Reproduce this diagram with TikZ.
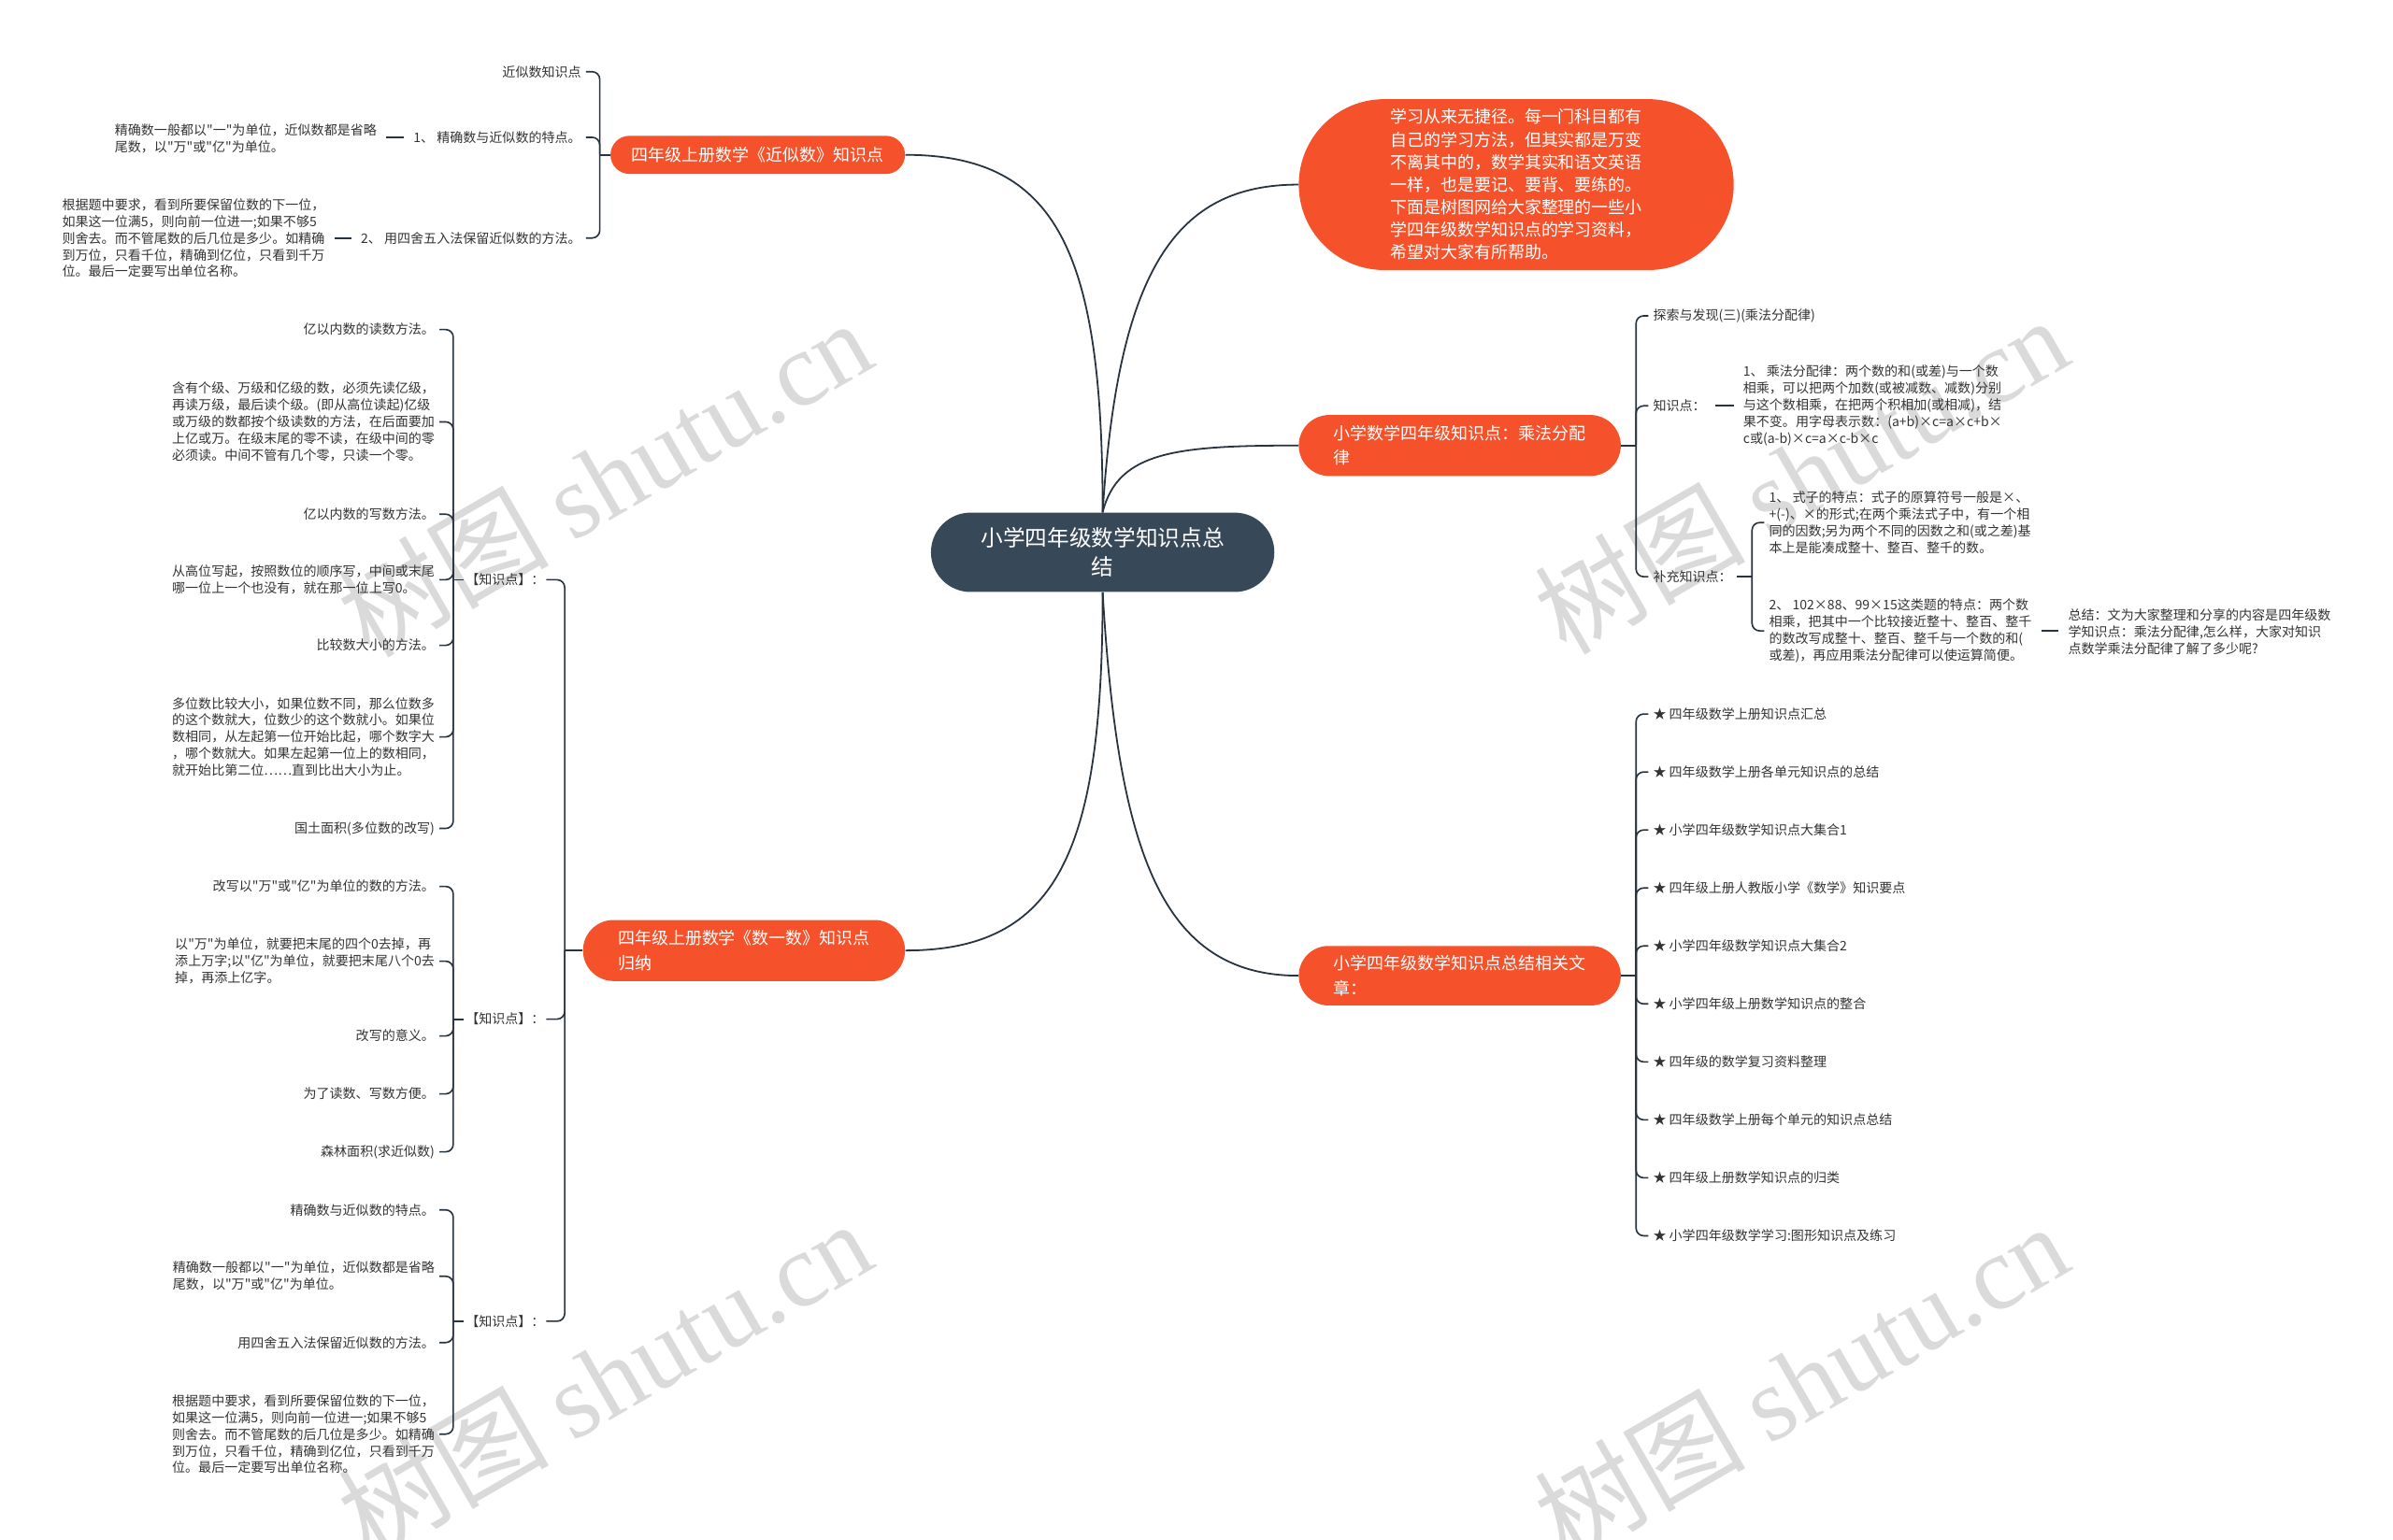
\documentclass[tikz,border=0pt]{standalone}
\usepackage{fontspec}
\setmainfont{Noto Sans CJK SC}[Ligatures=TeXOff]
\newfontfamily\wmlatin{Liberation Serif}
\definecolor{orng}{HTML}{F5522B}
\definecolor{slate}{HTML}{374858}
\definecolor{linec}{HTML}{27333F}
\definecolor{txt}{HTML}{333333}
\definecolor{wmc}{HTML}{DADADA}
\pgfdeclarelayer{bg}
\pgfsetlayers{bg,main}
\begin{document}
\begin{tikzpicture}[x=1pt,y=-1pt,
  leaf/.style={font=\fontsize{8.6}{11}\selectfont, text=txt, inner xsep=3pt, inner ysep=1pt},
  ltxt/.style={leaf, anchor=east, align=right},
  lpara/.style={leaf, anchor=east, align=left},
  rtxt/.style={leaf, anchor=west, align=left},
  mainbox/.style={fill=orng, text=white, font=\fontsize{11}{16}\selectfont, inner sep=0pt, align=left},
  br/.style={draw=linec, line width=1pt, rounded corners=5pt},
  lk/.style={draw=linec, line width=1.2pt, shorten <=3pt, shorten >=3pt},
  cv/.style={draw=linec, line width=1.1pt},
  wmark/.style={text=wmc, font=\fontsize{69}{69}\selectfont, rotate=30, inner sep=0pt}
]
\useasboundingbox (0,0) rectangle (1568,1009);

% ---------- main nodes ----------
\node[fill=slate, text=white, minimum width=225pt, minimum height=52pt, rounded corners=26pt,
      font=\fontsize{14.5}{19}\selectfont, align=center, inner sep=0pt] (n1) at (722.5,362)
      {小学四年级数学知识点总\\结};
\node[mainbox, minimum width=285pt, minimum height=112pt, rounded corners=56pt,
      font=\fontsize{11}{14.8}\selectfont] (n2) at (993.5,121)
      {学习从来无捷径。每一门科目都有\\自己的学习方法，但其实都是万变\\不离其中的，数学其实和语文英语\\一样，也是要记、要背、要练的。\\下面是树图网给大家整理的一些小\\学四年级数学知识点的学习资料，\\希望对大家有所帮助。};
\node[mainbox, minimum width=193pt, minimum height=25pt, rounded corners=12.5pt, align=center] (n3a) at (496.5,101.5)
      {四年级上册数学《近似数》知识点};
\node[mainbox, minimum width=211pt, minimum height=40pt, rounded corners=20pt] (n3b) at (487.5,623)
      {四年级上册数学《数一数》知识点\\归纳};
\node[mainbox, minimum width=211pt, minimum height=40pt, rounded corners=20pt] (n4) at (956.5,292)
      {小学数学四年级知识点：乘法分配\\律};
\node[mainbox, minimum width=211pt, minimum height=39pt, rounded corners=19.5pt] (n5) at (956.5,639.5)
      {小学四年级数学知识点总结相关文\\章：};

% ---------- subtree: 近似数 ----------
\coordinate (ja) at (393,101.5);
\node[ltxt] (a1) at (384,47) {近似数知识点};
\node[ltxt] (a2) at (384,90) {1、 精确数与近似数的特点。};
\node[lpara] (a2c) at (250,91) {精确数一般都以"一"为单位，近似数都是省略\\尾数，以"万"或"亿"为单位。};
\node[ltxt] (a3) at (384,156) {2、 用四舍五入法保留近似数的方法。};
\node[lpara] (a3c) at (216,156) {根据题中要求，看到所要保留位数的下一位，\\如果这一位满5，则向前一位进一;如果不够5\\则舍去。而不管尾数的后几位是多少。如精确\\到万位，只看千位，精确到亿位，只看到千万\\位。最后一定要写出单位名称。};

% ---------- subtree: 数一数 ----------
\coordinate (jb) at (370,623);
\node[leaf, anchor=west, inner xsep=1pt] (k1) at (304,380) {【知识点】：};
\node[leaf, anchor=west, inner xsep=1pt] (k2) at (304,668) {【知识点】：};
\node[leaf, anchor=west, inner xsep=1pt] (k3) at (304,866) {【知识点】：};
\coordinate (j1) at (297,380);
\coordinate (j2) at (297,668);
\coordinate (j3) at (297,866);

\node[ltxt] (g1a) at (288,216) {亿以内数的读数方法。};
\node[lpara] (g1b) at (288,276.5) {含有个级、万级和亿级的数，必须先读亿级，\\再读万级，最后读个级。(即从高位读起)亿级\\或万级的数都按个级读数的方法，在后面要加\\上亿或万。在级末尾的零不读，在级中间的零\\必须读。中间不管有几个零，只读一个零。};
\node[ltxt] (g1c) at (288,337) {亿以内数的写数方法。};
\node[lpara] (g1d) at (288,380) {从高位写起，按照数位的顺序写，中间或末尾\\哪一位上一个也没有，就在那一位上写0。};
\node[ltxt] (g1e) at (288,423) {比较数大小的方法。};
\node[lpara] (g1f) at (288,483) {多位数比较大小，如果位数不同，那么位数多\\的这个数就大，位数少的这个数就小。如果位\\数相同，从左起第一位开始比起，哪个数字大\\，哪个数就大。如果左起第一位上的数相同，\\就开始比第二位……直到比出大小为止。};
\node[ltxt] (g1g) at (288,543) {国土面积(多位数的改写)};

\node[ltxt] (g2a) at (288,581) {改写以"万"或"亿"为单位的数的方法。};
\node[lpara] (g2b) at (288,630) {以"万"为单位，就要把末尾的四个0去掉，再\\添上万字;以"亿"为单位，就要把末尾八个0去\\掉，再添上亿字。};
\node[ltxt] (g2c) at (288,679) {改写的意义。};
\node[ltxt] (g2d) at (288,717) {为了读数、写数方便。};
\node[ltxt] (g2e) at (288,755) {森林面积(求近似数)};

\node[ltxt] (g3a) at (288,793) {精确数与近似数的特点。};
\node[lpara] (g3b) at (288,836.5) {精确数一般都以"一"为单位，近似数都是省略\\尾数，以"万"或"亿"为单位。};
\node[ltxt] (g3c) at (288,880) {用四舍五入法保留近似数的方法。};
\node[lpara] (g3d) at (288,940) {根据题中要求，看到所要保留位数的下一位，\\如果这一位满5，则向前一位进一;如果不够5\\则舍去。而不管尾数的后几位是多少。如精确\\到万位，只看千位，精确到亿位，只看到千万\\位。最后一定要写出单位名称。};

% ---------- subtree: 乘法分配律 ----------
\coordinate (jr) at (1072,292);
\node[rtxt] (r1) at (1080,207) {探索与发现(三)(乘法分配律)};
\node[rtxt] (r2) at (1080,266) {知识点：};
\node[rtxt] (r2c) at (1139,266) {1、 乘法分配律：两个数的和(或差)与一个数\\相乘，可以把两个加数(或被减数、减数)分别\\与这个数相乘，在把两个积相加(或相减)，结\\果不变。用字母表示数：(a+b)×c=a×c+b×\\c或(a-b)×c=a×c-b×c};
\node[rtxt] (r3) at (1080,378) {补充知识点：};
\coordinate (js) at (1148,378);
\node[rtxt] (s1) at (1156,342.5) {1、 式子的特点：式子的原算符号一般是×、\\+(-)、×的形式;在两个乘法式子中，有一个相\\同的因数;另为两个不同的因数之和(或之差)基\\本上是能凑成整十、整百、整千的数。};
\node[rtxt] (s2) at (1156,413.5) {2、 102×88、99×15这类题的特点：两个数\\相乘，把其中一个比较接近整十、整百、整千\\的数改写成整十、整百、整千与一个数的和(\\或差)，再应用乘法分配律可以使运算简便。};
\node[rtxt] (s2c) at (1352,414) {总结：文为大家整理和分享的内容是四年级数\\学知识点：乘法分配律,怎么样，大家对知识\\点数学乘法分配律了解了多少呢?};

% ---------- subtree: 相关文章 ----------
\coordinate (jt) at (1072,639.5);
\foreach \t [count=\i from 0] in {四年级数学上册知识点汇总,四年级数学上册各单元知识点的总结,小学四年级数学知识点大集合1,四年级上册人教版小学《数学》知识要点,小学四年级数学知识点大集合2,小学四年级上册数学知识点的整合,四年级的数学复习资料整理,四年级数学上册每个单元的知识点总结,四年级上册数学知识点的归类,小学四年级数学学习:图形知识点及练习}
  \node[rtxt] (t\i) at (1080,{468+38*\i}) {★ \t};

% ---------- background: watermarks and connectors ----------
\begin{pgfonlayer}{bg}
\node[wmark] (w1) at (396,313) {树图 {\wmlatin shutu.cn}};
\node[wmark] (w2) at (1180,311) {树图 {\wmlatin shutu.cn}};
\node[wmark] (w3) at (396,903) {树图 {\wmlatin shutu.cn}};
\node[wmark] (w4) at (1180,905) {树图 {\wmlatin shutu.cn}};

% central curves
\draw[cv] (n1.north) .. controls +(0,-170) and +(100,0) .. (n3a.east);
\draw[cv] (n1.north) .. controls +(10,-160) and +(-80,0) .. (n2.west);
\draw[cv] (n1.north) .. controls +(10,-40) and +(-80,0) .. (n4.west);
\draw[cv] (n1.south) .. controls +(0,170) and +(100,0) .. (n3b.east);
\draw[cv] (n1.south) .. controls +(10,170) and +(-90,0) .. (n5.west);

% 近似数
\draw[cv] (n3a.west) -- (ja);
\foreach \c in {a1,a2,a3} \draw[br] (ja) |- (\c.east);
\draw[lk] (a2.west) -- (a2.west -| a2c.east);
\draw[lk] (a3.west) -- (a3c.east);

% 数一数
\draw[cv] (n3b.west) -- (jb);
\foreach \c in {k1,k2,k3} \draw[br] (jb) |- (\c.east);
\draw[cv] (k1.west) -- (j1);
\draw[cv] (k2.west) -- (j2);
\draw[cv] (k3.west) -- (j3);
\foreach \c in {g1a,g1b,g1c,g1d,g1e,g1f,g1g} \draw[br] (j1) |- (\c.east);
\foreach \c in {g2a,g2b,g2c,g2d,g2e} \draw[br] (j2) |- (\c.east);
\foreach \c in {g3a,g3b,g3c,g3d} \draw[br] (j3) |- (\c.east);

% 乘法分配律
\draw[cv] (n4.east) -- (jr);
\foreach \c in {r1,r2,r3} \draw[br] (jr) |- (\c.west);
\draw[lk] (r2.east) -- (r2c.west);
\draw[cv] (r3.east) -- (js);
\foreach \c in {s1,s2} \draw[br] (js) |- (\c.west);
\draw[lk] (s2.east) -- (s2.east -| s2c.west);

% 相关文章
\draw[cv] (n5.east) -- (jt);
\foreach \i in {0,...,9} \draw[br] (jt) |- (t\i.west);
\end{pgfonlayer}
\end{tikzpicture}
\end{document}
